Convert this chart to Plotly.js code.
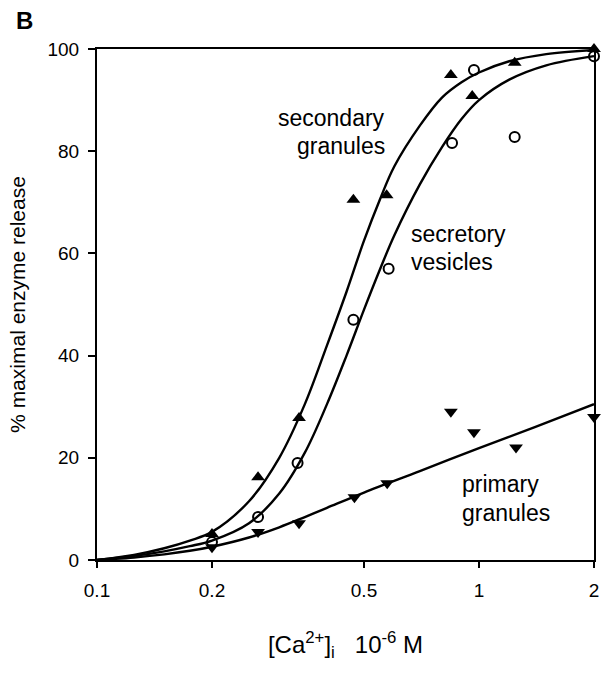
<!DOCTYPE html>
<html>
<head>
<meta charset="utf-8">
<script src="https://cdn.plot.ly/plotly-3.0.1.min.js"></script>
<style>html,body{margin:0;padding:0;background:#fff;}#chart{width:607px;height:676px;}</style>
</head>
<body>
<div id="chart"></div>
<script>
// Measured data points
const secGranX = [0.2, 0.264, 0.338, 0.469, 0.573, 0.844, 0.96, 1.24, 2];
const secGranY = [5.1, 16.2, 27.8, 70.5, 71.4, 94.9, 90.8, 97.3, 100];
const vesX = [0.2, 0.264, 0.335, 0.469, 0.58, 0.85, 0.97, 1.24, 2];
const vesY = [3.5, 8.4, 19.0, 47.0, 57.0, 81.6, 95.9, 82.8, 98.6];
const primX = [0.2, 0.264, 0.338, 0.472, 0.575, 0.844, 0.97, 1.25, 2];
const primY = [2.5, 5.5, 7.2, 12.3, 15.0, 29.0, 25.0, 22.0, 28.0];

// Fitted curves
const secCurveX = [0.1, 0.125, 0.15, 0.175, 0.2, 0.25, 0.3, 0.35, 0.4, 0.45, 0.5, 0.55, 0.6, 0.7, 0.8, 0.9, 1, 1.2, 1.5, 2];
const secCurveY = [0, 1, 2.3, 3.8, 5.5, 11.5, 20, 30.5, 42, 52.5, 62.5, 70.5, 77, 85, 90.5, 93.5, 95.4, 97.6, 99, 99.8];
const vesCurveX = [0.1, 0.125, 0.15, 0.175, 0.2, 0.25, 0.3, 0.35, 0.4, 0.45, 0.5, 0.55, 0.6, 0.7, 0.8, 0.9, 1, 1.2, 1.5, 2];
const vesCurveY = [0, 0.8, 1.7, 2.7, 3.8, 7.2, 13, 21, 30.5, 40, 49, 56.8, 63.5, 73.5, 80.8, 86.3, 90, 94, 96.8, 98.6];
const primCurveX = [0.1, 0.125, 0.15, 0.175, 0.2, 0.25, 0.3, 0.35, 0.4, 0.5, 0.7, 1, 1.4, 2];
const primCurveY = [0, 0.5, 1.1, 1.8, 2.6, 4.4, 6.4, 8.4, 10.2, 13.2, 17.4, 21.9, 26, 30.5];

const xTicks = [0.1, 0.2, 0.5, 1, 2];
const xTickText = ['0.1', '0.2', '0.5', '1', '2'];
const yTicks = [0, 20, 40, 60, 80, 100];

const font = 'Liberation Sans, Arial, sans-serif';
const lineStyle = {color: '#000', width: 2.4, shape: 'spline', smoothing: 1};

const traces = [
  {x: secCurveX, y: secCurveY, mode: 'lines', line: lineStyle, hoverinfo: 'skip', cliponaxis: false},
  {x: vesCurveX, y: vesCurveY, mode: 'lines', line: lineStyle, hoverinfo: 'skip', cliponaxis: false},
  {x: primCurveX, y: primCurveY, mode: 'lines', line: lineStyle, hoverinfo: 'skip', cliponaxis: false},
  {x: secGranX, y: secGranY, mode: 'markers', name: 'secondary granules', cliponaxis: false,
   marker: {symbol: 'triangle-up', size: 12, color: '#000'}},
  {x: vesX, y: vesY, mode: 'markers', name: 'secretory vesicles', cliponaxis: false,
   marker: {symbol: 'circle-open', size: 10, color: '#000', line: {width: 2, color: '#000'}}},
  {x: primX, y: primY, mode: 'markers', name: 'primary granules', cliponaxis: false,
   marker: {symbol: 'triangle-down', size: 12, color: '#000'}}
];

const annFont = {family: font, size: 23, color: '#000'};
const layout = {
  width: 607, height: 676,
  margin: {l: 97, r: 13, t: 49, b: 116},
  paper_bgcolor: '#fff', plot_bgcolor: '#fff',
  showlegend: false,
  font: {family: font, color: '#000'},
  xaxis: {
    type: 'log', range: [-1, Math.log10(2)],
    tickvals: xTicks, ticktext: xTickText,
    ticks: 'outside', ticklen: 6, tickwidth: 2, tickcolor: '#000',
    ticklabelstandoff: 6,
    showline: true, linecolor: '#000', linewidth: 2, mirror: true,
    showgrid: false, zeroline: false,
    tickfont: {family: font, size: 19, color: '#000'},
    title: {text: '[Ca<sup>2+</sup>]<sub>i</sub>   10<sup>-6</sup> M', font: {family: font, size: 24, color: '#000'}, standoff: 36}
  },
  yaxis: {
    range: [0, 100],
    tickvals: yTicks,
    ticks: 'outside', ticklen: 7, tickwidth: 2, tickcolor: '#000',
    ticklabelstandoff: 5,
    showline: true, linecolor: '#000', linewidth: 2, mirror: true,
    showgrid: false, zeroline: false,
    tickfont: {family: font, size: 19, color: '#000'},
    title: {text: '% maximal enzyme release', font: {family: font, size: 21, color: '#000'}, standoff: 16}
  },
  annotations: [
    {xref: 'paper', yref: 'paper', x: -0.145, y: 1.055, text: '<b>B</b>', showarrow: false,
     xanchor: 'center', yanchor: 'middle', font: {family: font, size: 24, color: '#000'}},
    {xref: 'x', yref: 'y', x: Math.log10(0.575), y: 86.5, text: 'secondary', showarrow: false,
     xanchor: 'right', yanchor: 'middle', font: annFont},
    {xref: 'x', yref: 'y', x: Math.log10(0.575), y: 81.0, text: 'granules', showarrow: false,
     xanchor: 'right', yanchor: 'middle', font: annFont},
    {xref: 'x', yref: 'y', x: Math.log10(0.654), y: 63.8, text: 'secretory', showarrow: false,
     xanchor: 'left', yanchor: 'middle', font: annFont},
    {xref: 'x', yref: 'y', x: Math.log10(0.654), y: 58.3, text: 'vesicles', showarrow: false,
     xanchor: 'left', yanchor: 'middle', font: annFont},
    {xref: 'x', yref: 'y', x: Math.log10(0.89), y: 14.8, text: 'primary', showarrow: false,
     xanchor: 'left', yanchor: 'middle', font: annFont},
    {xref: 'x', yref: 'y', x: Math.log10(0.89), y: 9.2, text: 'granules', showarrow: false,
     xanchor: 'left', yanchor: 'middle', font: annFont}
  ]
};

Plotly.newPlot('chart', traces, layout, {displayModeBar: false, staticPlot: true});
</script>
</body>
</html>
